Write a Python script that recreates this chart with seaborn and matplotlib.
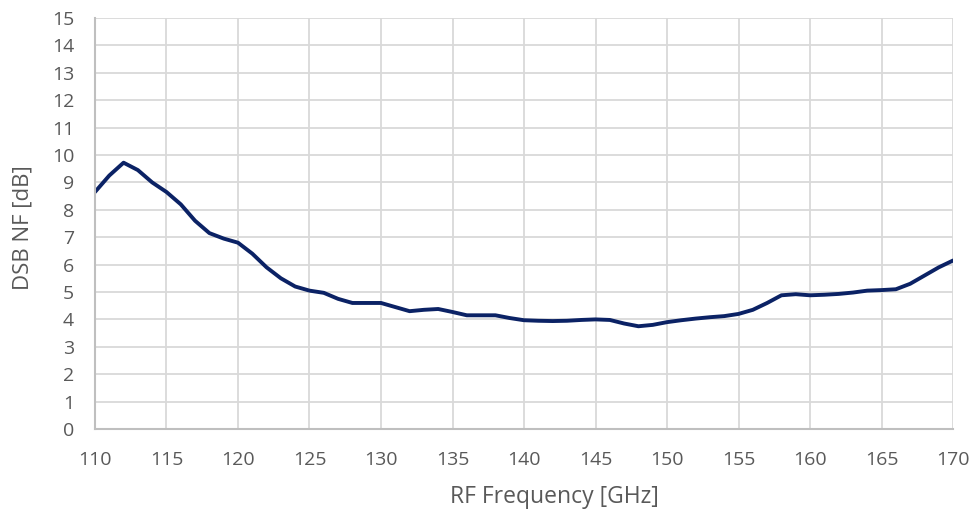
import numpy as np
import pandas as pd
import matplotlib
matplotlib.use("Agg")
import matplotlib.pyplot as plt
import seaborn as sns

# RF frequency [GHz] and DSB noise figure [dB]
freq = list(range(110, 171))
nf = [8.65, 9.25, 9.72, 9.45, 9.0, 8.65, 8.2, 7.6, 7.15, 6.95,
      6.8, 6.4, 5.9, 5.5, 5.2, 5.05, 4.97, 4.75, 4.6, 4.6,
      4.6, 4.45, 4.3, 4.35, 4.38, 4.27, 4.15, 4.15, 4.15, 4.05,
      3.97, 3.95, 3.94, 3.95, 3.98, 4.0, 3.98, 3.85, 3.75, 3.8,
      3.9, 3.97, 4.03, 4.08, 4.12, 4.2, 4.35, 4.6, 4.88, 4.92,
      4.88, 4.9, 4.93, 4.98, 5.05, 5.07, 5.1, 5.3, 5.6, 5.9,
      6.15]

df = pd.DataFrame({'freq': freq, 'nf': nf})

sns.set_theme(style='white')
plt.rcParams['font.family'] = ['Open Sans', 'DejaVu Sans']
text_col = '#595959'

fig = plt.figure(figsize=(9.74, 5.15), dpi=100)
ax = fig.add_axes([0.0975, 0.167, 0.881, 0.798])

sns.lineplot(data=df, x='freq', y='nf', color='#0b2265', linewidth=2.8,
             solid_joinstyle='round', solid_capstyle='round', ax=ax)

ax.set_xlim(110, 170)
ax.set_ylim(0, 15)
ax.set_xticks(range(110, 171, 5))
ax.set_yticks(range(0, 16))
ax.grid(True, color='#d9d9d9', linewidth=1.3)
ax.set_axisbelow(True)

for s in ['top', 'right']:
    ax.spines[s].set_visible(False)
for s in ['left', 'bottom']:
    ax.spines[s].set_color('#bfbfbf')
    ax.spines[s].set_linewidth(1.5)

ax.tick_params(axis='both', length=0, labelsize=14, colors=text_col)
ax.tick_params(axis='y', pad=15)
ax.tick_params(axis='x', pad=16)

ax.set_xlabel('RF Frequency [GHz]', fontsize=16.5, color=text_col, va='center')
ax.set_ylabel('DSB NF [dB]', fontsize=16, color=text_col, va='center')
# Excel-style label placement (centres of the label texts)
ax.xaxis.set_label_coords(0.535, -0.1655)
ax.yaxis.set_label_coords(-0.084, 0.489)

fig.savefig('out.png', dpi=100)
